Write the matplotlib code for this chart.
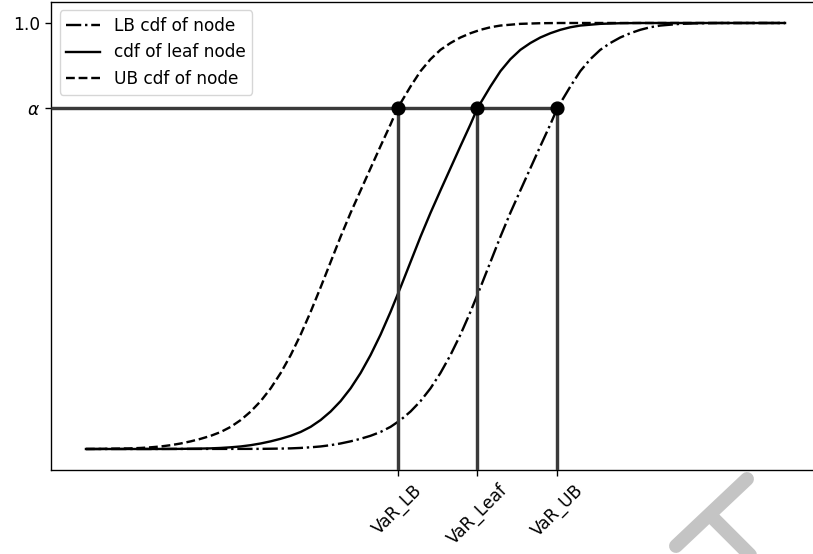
import matplotlib
matplotlib.use("Agg")
import matplotlib.pyplot as plt
from matplotlib.lines import Line2D

# ---- data ----
leaf_x = [0, 9.29, 13.57, 16.43, 17.86, 19.29, 20.71, 22.14, 23.57, 25.0, 26.43, 27.86,
          29.29, 30.71, 32.14, 33.57, 35.0, 36.43, 37.86, 39.29, 40.71, 42.14, 43.57,
          45.0, 46.43, 47.86, 49.29, 50.71, 52.14, 53.57, 55.0, 56.0, 57.86, 59.29,
          60.71, 62.14, 63.57, 65.0, 66.43, 67.86, 69.29, 70.71, 73.57, 76.43, 79.29, 100]
leaf_y = [0, 0, 0.0003, 0.001, 0.0015, 0.0025, 0.004, 0.006, 0.009, 0.013, 0.018, 0.024,
          0.031, 0.040, 0.052, 0.068, 0.088, 0.1125, 0.1425, 0.1785, 0.2205, 0.2685, 0.322,
          0.3795, 0.439, 0.4985, 0.5545, 0.607, 0.659, 0.711, 0.762, 0.800, 0.851, 0.887,
          0.915, 0.937, 0.953, 0.966, 0.976, 0.984, 0.990, 0.994, 0.998, 0.9995, 1.0, 1.0]

ub_x = [0, 2.14, 5.0, 6.43, 7.86, 9.29, 10.71, 12.14, 13.57, 15.0, 16.43, 17.86, 19.29,
        20.71, 22.14, 23.57, 25.0, 26.43, 27.86, 29.29, 30.71, 32.14, 33.57, 35.0, 36.43,
        37.86, 39.29, 40.71, 42.14, 43.57, 44.57, 46.43, 47.86, 49.29, 50.71, 52.14,
        53.57, 55.0, 56.43, 57.86, 59.29, 62.14, 65.0, 67.86, 100]
ub_y = [0, 0.0003, 0.001, 0.0015, 0.0025, 0.004, 0.006, 0.009, 0.013, 0.018, 0.024, 0.031,
        0.040, 0.052, 0.068, 0.088, 0.1125, 0.1425, 0.1785, 0.2205, 0.2685, 0.322, 0.3795,
        0.439, 0.4985, 0.5545, 0.607, 0.659, 0.711, 0.762, 0.800, 0.851, 0.887, 0.915,
        0.937, 0.953, 0.966, 0.976, 0.984, 0.990, 0.994, 0.998, 0.9995, 1.0, 1.0]

lb_x = [0, 25.0, 27.86, 29.29, 30.71, 32.14, 33.57, 35.0, 36.43, 37.86, 39.29, 40.71,
        42.14, 43.57, 45.0, 46.43, 47.86, 49.29, 50.71, 52.14, 53.57, 55.0, 56.43, 57.86,
        59.29, 60.71, 62.14, 63.57, 65.0, 66.43, 67.43, 69.29, 70.71, 72.14, 73.57, 75.0,
        76.43, 77.86, 79.29, 80.71, 82.14, 85.0, 87.86, 90.71, 100]
lb_y = [0, 0.0003, 0.001, 0.0015, 0.0025, 0.004, 0.006, 0.009, 0.013, 0.018, 0.024, 0.031,
        0.040, 0.052, 0.068, 0.088, 0.1125, 0.1425, 0.1785, 0.2205, 0.2685, 0.322, 0.3795,
        0.439, 0.4985, 0.5545, 0.607, 0.659, 0.711, 0.762, 0.800, 0.851, 0.887, 0.915,
        0.937, 0.953, 0.966, 0.976, 0.984, 0.990, 0.994, 0.998, 0.9995, 1.0, 1.0]

alpha_level = 0.8
var_values = [44.57, 56.0, 67.43]
var_labels = ["VaR_LB", "VaR_Leaf", "VaR_UB"]
ytick_values = [alpha_level, 1.0]
ytick_labels = [r"$\alpha$", "1.0"]
series_labels = ["LB cdf of node", "cdf of leaf node", "UB cdf of node"]

S = 1.224  # scale relative to default sizes

plt.rcParams.update({
    "font.family": ["DejaVu Sans"],
    "font.size": 10 * S,
    "axes.linewidth": 0.8 * S,
    "xtick.major.size": 3.5 * S,
    "ytick.major.size": 3.5 * S,
    "xtick.major.width": 0.8 * S,
    "ytick.major.width": 0.8 * S,
})

fig = plt.figure(figsize=(8.13, 5.54), dpi=100)
ax = fig.add_axes([51 / 813, 83.7 / 554, (820 - 51) / 813, (470.3 - 1.7) / 554])

lw = 1.4 * S
ax.plot(lb_x, lb_y, color="black", linestyle="-.", lw=lw, label=series_labels[0])
ax.plot(leaf_x, leaf_y, color="black", linestyle="-", lw=lw, label=series_labels[1])
ax.plot(ub_x, ub_y, color="black", linestyle="--", lw=lw, label=series_labels[2])

xmin, xmax = -5, 105
ymin, ymax = -0.05, 1.05
ax.hlines(alpha_level, xmin, max(var_values), color="#3a3a3a", lw=2.0 * S, zorder=3)
ax.vlines(var_values, ymin, alpha_level, color="#3a3a3a", lw=2.0 * S, zorder=3)
ax.plot(var_values, [alpha_level] * len(var_values), "o", color="black",
        markersize=7.5 * S, zorder=4)

ax.set_xlim(xmin, xmax)
ax.set_ylim(ymin, ymax)
ax.set_xticks(var_values)
ax.set_xticklabels(var_labels, rotation=45)
ax.set_yticks(ytick_values)
ax.set_yticklabels(ytick_labels)

ax.legend(loc="upper left")

# watermark shape at the bottom right
def fp(x, y):
    return x / 813, 1 - y / 554

for (x0, y0), (x1, y1) in [((747, 479), (676, 546)), ((712, 517), (790, 595))]:
    a, b = fp(x0, y0)
    c, d = fp(x1, y1)
    fig.add_artist(Line2D([a, c], [b, d], transform=fig.transFigure, color="#c4c4c4",
                          lw=10, solid_capstyle="round", zorder=-1))

fig.savefig("out.png", dpi=100)
